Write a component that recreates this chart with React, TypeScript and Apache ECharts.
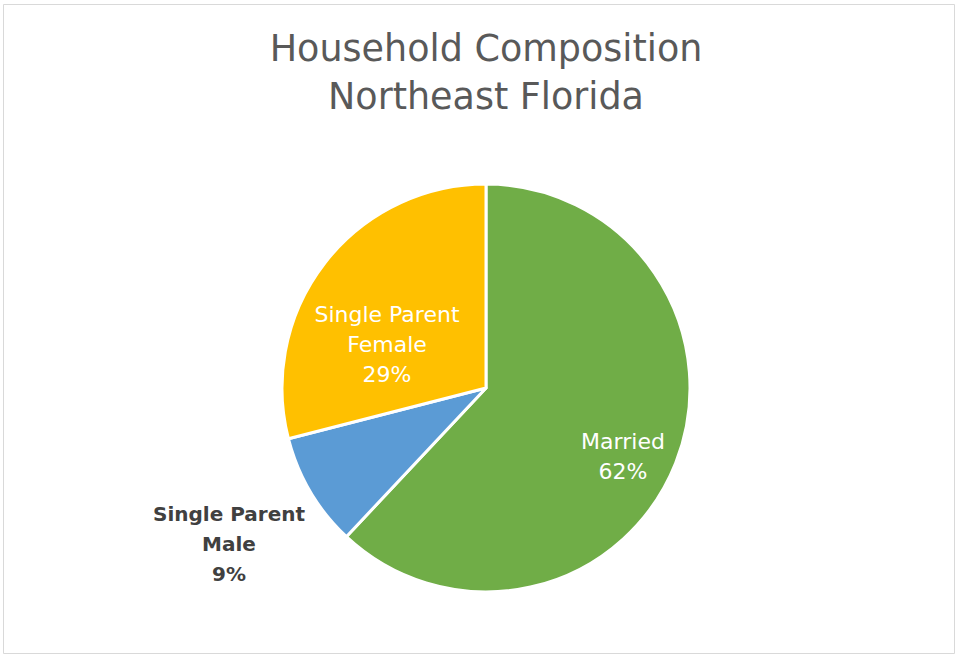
import React, { useEffect, useRef } from "react";
import * as echarts from "echarts";

const titleLines = ["Household Composition", "Northeast Florida"];
const categories = ["Married", "Single Parent\nMale", "Single Parent\nFemale"];
const values = [62, 9, 29];
const colors = ["#70AD47", "#5B9BD5", "#FFC000"];

export default function App() {
  const ref = useRef<HTMLDivElement>(null);
  useEffect(() => {
    document.body.style.margin = "0";
    const chart = echarts.init(ref.current!, null, { renderer: "svg" });
    const font = "DejaVu Sans";
    const labelPos: Record<number, [number, number]> = {
      0: [623, 456],
      1: [229, 544],
      2: [387, 344],
    };
    chart.setOption({
      animation: false,
      backgroundColor: "#ffffff",
      graphic: [
        {
          type: "rect",
          shape: { x: 3.5, y: 4.5, width: 951, height: 649 },
          style: { fill: "none", stroke: "#d9d9d9", lineWidth: 1 },
          silent: true,
        },
        ...titleLines.map((t, i) => ({
          type: "text",
          x: 486,
          y: 48 + i * 48,
          silent: true,
          style: {
            text: t,
            fill: "#595959",
            font: `36.5px "${font}"`,
            textAlign: "center",
            textVerticalAlign: "middle",
          },
        })),
      ],
      series: [
        {
          type: "pie",
          center: [486, 388],
          radius: 204,
          startAngle: 90,
          clockwise: true,
          itemStyle: { borderColor: "#ffffff", borderWidth: 3 },
          labelLine: { show: false },
          label: {
            show: true,
            position: "inside",
            formatter: (p: any) => `${p.name}\n${p.value}%`,
            fontFamily: font,
            fontSize: 22,
            lineHeight: 30,
            color: "#ffffff",
            align: "center",
          },
          labelLayout: (p: any) => {
            const pos = labelPos[p.dataIndex];
            return { x: pos[0], y: pos[1], align: "center", verticalAlign: "middle" };
          },
          data: categories.map((name, i) => ({
            name,
            value: values[i],
            itemStyle: { color: colors[i] },
            label:
              i === 1
                ? { position: "outside", color: "#404040", fontWeight: "bold", fontSize: 20 }
                : undefined,
          })),
        },
      ],
    });
    return () => chart.dispose();
  }, []);
  return <div ref={ref} style={{ width: 956, height: 656 }} />;
}
